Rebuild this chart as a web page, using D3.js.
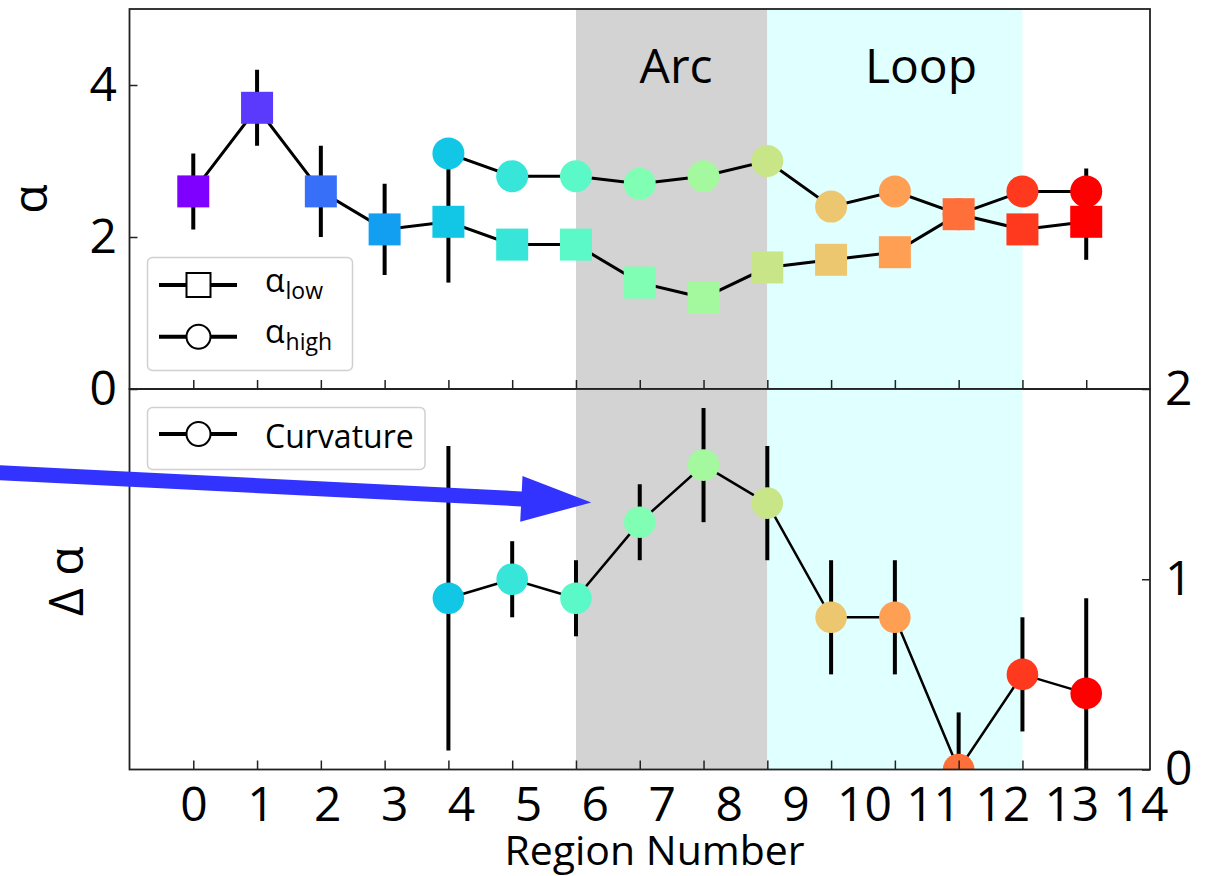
<!DOCTYPE html>
<html>
<head>
<meta charset="utf-8">
<script src="https://cdn.jsdelivr.net/npm/d3@7"></script>
<style>
  body { margin: 0; background: #fff; }
  svg { display: block; }
  text { font-family: 'Open Sans', sans-serif; fill: #000; }
</style>
</head>
<body>
<svg id="chart" width="1206" height="876"></svg>
<script>
// ---- data ----
const regions      = [0, 1, 2, 3, 4, 5, 6, 7, 8, 9, 10, 11, 12, 13, 14];
const alphaLow     = [2.6, 3.7, 2.6, 2.1, 2.2, 1.9, 1.9, 1.4, 1.2, 1.6, 1.7, 1.8, 2.3, 2.1, 2.2];
const alphaLowErr  = [0.5, 0.5, 0.6, 0.6, 0.8, 0.1, 0.1, 0.1, 0.1, 0.1, 0.1, 0.1, 0.1, 0.1, 0.5];

const highRegions  = [4, 5, 6, 7, 8, 9, 10, 11, 12, 13, 14];
const alphaHigh    = [3.1, 2.8, 2.8, 2.7, 2.8, 3.0, 2.4, 2.6, 2.3, 2.6, 2.6];
const alphaHighErr = [0.1, 0.1, 0.1, 0.1, 0.1, 0.1, 0.1, 0.1, 0.1, 0.1, 0.3];

const curvature    = [0.9, 1.0, 0.9, 1.3, 1.6, 1.4, 0.8, 0.8, 0.0, 0.5, 0.4];
const curvatureErr = [0.8, 0.2, 0.2, 0.2, 0.3, 0.3, 0.3, 0.3, 0.3, 0.3, 0.5];

const xTickLabels  = ['0', '1', '2', '3', '4', '5', '6', '7', '8', '9', '10', '11', '12', '13', '14'];
const topYTicks    = [0, 2, 4];
const bottomYTicks = [0, 1, 2];

const spanNames    = ['Arc', 'Loop'];
const spanFrom     = [6, 9];
const spanTo       = [9, 13];

// ---- layout & style ----
const svg = d3.select('#chart');
const plotLeft = 129.5, plotRight = 1150, topY0 = 9, midY = 389, botY1 = 769.5;
const spanColors = ['#d3d3d3', '#e0ffff'];
const spanLabelX = [7.57, 11.41];   // label centres, in region units
const spineColor = '#222';
const lastRegion = regions[regions.length - 1];
const intFmt = d3.format('d');

const x    = d3.scaleLinear().domain([-1, 15]).range([plotLeft, plotRight]);
const yTop = d3.scaleLinear().domain([0, 5]).range([midY, topY0]);
const yBot = d3.scaleLinear().domain([0, 2]).range([botY1, midY]);
// tick-label placement along the bottom edge
const xLabel = d3.scaleLinear().domain([0, 9, 10, 14]).range([194, 796, 864.5, 1141]);

// matplotlib-style "rainbow" colour map, indexed by region
function rainbow(t) {
  const r = Math.min(1, Math.abs(2 * t - 0.5));
  const g = Math.sin(Math.PI * t);
  const b = Math.cos(Math.PI * t / 2);
  return d3.rgb(r * 255, g * 255, b * 255).formatHex();
}
const colorOf = r => rainbow(r / lastRegion);

const defs = svg.append('defs');
defs.append('clipPath').attr('id', 'clipTop').append('rect')
  .attr('x', plotLeft).attr('y', topY0).attr('width', plotRight - plotLeft).attr('height', midY - topY0);
defs.append('clipPath').attr('id', 'clipBot').append('rect')
  .attr('x', plotLeft).attr('y', midY).attr('width', plotRight - plotLeft).attr('height', botY1 - midY);

function makePanel(clipId, y0, y1) {
  const g = svg.append('g');
  // shaded spans
  g.selectAll('rect.span').data(spanNames).join('rect')
    .attr('class', 'span')
    .attr('x', (d, i) => x(spanFrom[i]))
    .attr('width', (d, i) => x(spanTo[i]) - x(spanFrom[i]))
    .attr('y', y0).attr('height', y1 - y0)
    .attr('fill', (d, i) => spanColors[i]);
  const plot = g.append('g').attr('clip-path', `url(#${clipId})`);
  return { g, plot };
}

function styleAxis(a) {
  a.select('.domain').remove();
  a.selectAll('.tick line').attr('stroke', spineColor).attr('stroke-width', 1.5);
  a.selectAll('.tick text').attr('font-size', 48)
    .attr('font-family', "'Open Sans', sans-serif").attr('fill', '#000');
}

// ---------- upper panel ----------
const upper = makePanel('clipTop', topY0, midY);

// x ticks (inward)
upper.g.append('g')
  .attr('transform', `translate(0,${midY})`)
  .call(d3.axisBottom(x).tickValues(regions).tickSize(-9).tickFormat(''))
  .call(styleAxis);

// left y axis
upper.g.append('g')
  .attr('transform', `translate(${plotLeft},0)`)
  .call(d3.axisLeft(yTop).tickValues(topYTicks).tickFormat(intFmt).tickSize(-8).tickPadding(12.5))
  .call(styleAxis);

// span labels
upper.g.selectAll('text.spanlab').data(spanNames).join('text')
  .attr('class', 'spanlab')
  .attr('x', (d, i) => x(spanLabelX[i]))
  .attr('y', yTop(4.02))
  .attr('text-anchor', 'middle')
  .attr('font-size', 48)
  .text(d => d);

const lowPts  = regions.map((r, i) => ({ r, v: alphaLow[i], e: alphaLowErr[i] }));
const highPts = highRegions.map((r, i) => ({ r, v: alphaHigh[i], e: alphaHighErr[i] }));

// error bars
[lowPts, highPts].forEach(pts => {
  upper.plot.append('g').selectAll('line').data(pts).join('line')
    .attr('x1', d => x(d.r)).attr('x2', d => x(d.r))
    .attr('y1', d => yTop(d.v - d.e)).attr('y2', d => yTop(d.v + d.e))
    .attr('stroke', '#000').attr('stroke-width', 4);
});
// connecting lines
const lineTop = d3.line().x(d => x(d.r)).y(d => yTop(d.v));
[lowPts, highPts].forEach(pts => {
  upper.plot.append('path').datum(pts)
    .attr('d', lineTop).attr('fill', 'none')
    .attr('stroke', '#000').attr('stroke-width', 3);
});
// markers
upper.plot.append('g').selectAll('circle').data(highPts).join('circle')
  .attr('cx', d => x(d.r)).attr('cy', d => yTop(d.v)).attr('r', 16)
  .attr('fill', d => colorOf(d.r));
upper.plot.append('g').selectAll('rect').data(lowPts).join('rect')
  .attr('x', d => x(d.r) - 16).attr('y', d => yTop(d.v) - 16)
  .attr('width', 32).attr('height', 32)
  .attr('fill', d => colorOf(d.r));

// frame
upper.g.append('rect')
  .attr('x', plotLeft).attr('y', topY0).attr('width', plotRight - plotLeft).attr('height', midY - topY0)
  .attr('fill', 'none').attr('stroke', spineColor).attr('stroke-width', 1.8);

// y label
svg.append('text')
  .attr('transform', `translate(47,${(topY0 + midY) / 2}) rotate(-90)`)
  .attr('text-anchor', 'middle').attr('font-size', 48)
  .text('α');

// legend (upper)
const legTop = svg.append('g');
legTop.append('rect')
  .attr('x', 147.5).attr('y', 257.5).attr('width', 205).attr('height', 113).attr('rx', 5)
  .attr('fill', '#fff').attr('stroke', '#d0d0d0').attr('stroke-width', 1.5);
[[285, 'square', 'low'], [336.7, 'circle', 'high']].forEach(([ly, shape, sub]) => {
  legTop.append('line').attr('x1', 159).attr('x2', 237).attr('y1', ly).attr('y2', ly)
    .attr('stroke', '#000').attr('stroke-width', 4);
  if (shape === 'square') {
    legTop.append('rect').attr('x', 198.5 - 12).attr('y', ly - 12).attr('width', 24).attr('height', 24)
      .attr('fill', '#fff').attr('stroke', '#000').attr('stroke-width', 2);
  } else {
    legTop.append('circle').attr('cx', 198.5).attr('cy', ly).attr('r', 12)
      .attr('fill', '#fff').attr('stroke', '#000').attr('stroke-width', 2);
  }
  const t = legTop.append('text').attr('x', 265).attr('y', ly + 6.5).attr('font-size', 32);
  t.append('tspan').text('α');
  t.append('tspan').attr('dy', 7).attr('dx', 1).attr('font-size', 23).text(sub);
});

// ---------- lower panel ----------
const lower = makePanel('clipBot', midY, botY1);

lower.g.append('g')
  .attr('transform', `translate(0,${botY1})`)
  .call(d3.axisBottom(x).tickValues(regions).tickSize(-9).tickFormat(''))
  .call(styleAxis);

// right y axis
lower.g.append('g')
  .attr('transform', `translate(${plotRight},0)`)
  .call(d3.axisRight(yBot).tickValues(bottomYTicks).tickFormat(intFmt).tickSize(-8).tickPadding(15))
  .call(styleAxis);

const curvPts = highRegions.map((r, i) => ({ r, v: curvature[i], e: curvatureErr[i] }));

lower.plot.append('g').selectAll('line').data(curvPts).join('line')
  .attr('x1', d => x(d.r)).attr('x2', d => x(d.r))
  .attr('y1', d => yBot(d.v - d.e)).attr('y2', d => yBot(d.v + d.e))
  .attr('stroke', '#000').attr('stroke-width', 4);
lower.plot.append('path').datum(curvPts)
  .attr('d', d3.line().x(d => x(d.r)).y(d => yBot(d.v)))
  .attr('fill', 'none').attr('stroke', '#000').attr('stroke-width', 2.5);
lower.plot.append('g').selectAll('circle').data(curvPts).join('circle')
  .attr('cx', d => x(d.r)).attr('cy', d => yBot(d.v)).attr('r', 15.8)
  .attr('fill', d => colorOf(d.r));

lower.g.append('rect')
  .attr('x', plotLeft).attr('y', midY).attr('width', plotRight - plotLeft).attr('height', botY1 - midY)
  .attr('fill', 'none').attr('stroke', spineColor).attr('stroke-width', 1.8);

svg.append('text')
  .attr('transform', `translate(83,${(midY + botY1) / 2 + 2}) rotate(-90)`)
  .attr('text-anchor', 'middle').attr('font-size', 48)
  .text('Δ α');

// legend (lower)
const legBot = svg.append('g');
legBot.append('rect')
  .attr('x', 147.5).attr('y', 407.5).attr('width', 277.5).attr('height', 62).attr('rx', 5)
  .attr('fill', '#fff').attr('stroke', '#d0d0d0').attr('stroke-width', 1.5);
legBot.append('line').attr('x1', 159).attr('x2', 237).attr('y1', 434).attr('y2', 434)
  .attr('stroke', '#000').attr('stroke-width', 4);
legBot.append('circle').attr('cx', 198.5).attr('cy', 434).attr('r', 12)
  .attr('fill', '#fff').attr('stroke', '#000').attr('stroke-width', 2);
legBot.append('text').attr('x', 265).attr('y', 448).attr('font-size', 32).text('Curvature');

// x tick labels and axis title
svg.append('g').selectAll('text').data(regions).join('text')
  .attr('x', r => xLabel(r)).attr('y', 820.5)
  .attr('text-anchor', 'middle').attr('font-size', 48)
  .text((r, i) => xTickLabels[i]);
svg.append('text')
  .attr('x', 654.5).attr('y', 865)
  .attr('text-anchor', 'middle').attr('font-size', 41)
  .text('Region Number');

// annotation arrow, anchored in the lower panel's data space
function arrowPoints(p0, p1, shaftW, headW, headL) {
  const dx = p1[0] - p0[0], dy = p1[1] - p0[1], L = Math.hypot(dx, dy);
  const ux = dx / L, uy = dy / L, nx = -uy, ny = ux;
  const bx = p1[0] - ux * headL, by = p1[1] - uy * headL;
  const s = shaftW / 2, h = headW / 2;
  return [
    [p0[0] + nx * s, p0[1] + ny * s], [bx + nx * s, by + ny * s], [bx + nx * h, by + ny * h],
    p1,
    [bx - nx * h, by - ny * h], [bx - nx * s, by - ny * s], [p0[0] - nx * s, p0[1] - ny * s]
  ];
}
const arrowTail = [x(-3.11), yBot(1.561)];
const arrowTip  = [x(6.24), yBot(1.404)];
svg.append('polygon')
  .attr('points', arrowPoints(arrowTail, arrowTip, 15, 46, 70).map(p => p.join(',')).join(' '))
  .attr('fill', '#3333ff');
</script>
</body>
</html>
